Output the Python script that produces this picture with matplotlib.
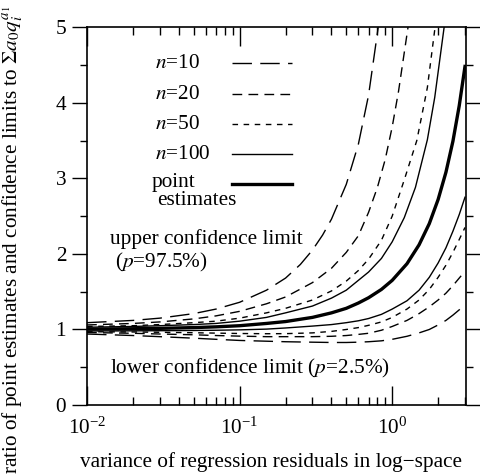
import matplotlib
matplotlib.use('agg')
import matplotlib.pyplot as plt
from matplotlib.ticker import MultipleLocator, LogLocator

plt.rcParams['font.family'] = ['Liberation Serif', 'DejaVu Serif']
plt.rcParams['mathtext.fontset'] = 'stix'

FS = 15.3

# common grid for point estimates and lower limits
var_grid = [0.01, 0.02, 0.03, 0.05, 0.07, 0.1, 0.15, 0.2, 0.3, 0.4, 0.5, 0.6,
            0.7, 0.85, 1.0, 1.25, 1.5, 1.75, 2.0, 2.25, 2.5, 2.75, 3.0]
point_est = [1.005, 1.01, 1.015, 1.025, 1.035, 1.05, 1.08, 1.105, 1.16, 1.22, 1.28, 1.35,
             1.42, 1.53, 1.65, 1.87, 2.12, 2.40, 2.72, 3.08, 3.49, 3.96, 4.48]
lower_n100 = [0.98, 0.982, 0.984, 0.987, 0.99, 0.995, 1.005, 1.02, 1.045, 1.065, 1.09, 1.115,
              1.145, 1.20, 1.27, 1.38, 1.52, 1.69, 1.88, 2.08, 2.30, 2.52, 2.75]
lower_n50 = [0.97, 0.967, 0.963, 0.957, 0.952, 0.947, 0.944, 0.945, 0.955, 0.975, 1.00, 1.025,
             1.055, 1.10, 1.16, 1.27, 1.39, 1.53, 1.69, 1.85, 2.02, 2.19, 2.35]
lower_n20 = [0.96, 0.95, 0.94, 0.93, 0.92, 0.912, 0.905, 0.905, 0.905, 0.91, 0.92, 0.935,
             0.95, 0.99, 1.04, 1.12, 1.21, 1.30, 1.39, 1.48, 1.58, 1.68, 1.77]
lower_n10 = [0.94, 0.92, 0.905, 0.885, 0.87, 0.855, 0.845, 0.838, 0.832, 0.828, 0.828, 0.832,
             0.838, 0.85, 0.87, 0.91, 0.955, 1.00, 1.06, 1.12, 1.19, 1.26, 1.33]

# upper limits leave the plot at the top, so each has its own grid
x_up10 = [0.01, 0.02, 0.03, 0.05, 0.07, 0.1, 0.15, 0.2, 0.25, 0.3, 0.35, 0.4, 0.5, 0.6, 0.7, 0.81]
upper_n10 = [1.09, 1.12, 1.15, 1.21, 1.27, 1.36, 1.52, 1.68, 1.86, 2.05, 2.25, 2.46, 2.92, 3.45, 4.1, 5.0]
x_up20 = [0.01, 0.02, 0.03, 0.05, 0.07, 0.1, 0.15, 0.2, 0.3, 0.4, 0.5, 0.6, 0.7, 0.8, 0.9, 1.0, 1.1, 1.27]
upper_n20 = [1.06, 1.08, 1.10, 1.14, 1.18, 1.24, 1.34, 1.43, 1.62, 1.81, 2.02, 2.24, 2.55, 2.88, 3.25, 3.68, 4.15, 5.0]
x_up50 = [0.01, 0.02, 0.03, 0.05, 0.07, 0.1, 0.15, 0.2, 0.3, 0.4, 0.5, 0.6, 0.7, 0.85, 1.0, 1.2, 1.45, 1.7, 1.91]
upper_n50 = [1.04, 1.05, 1.065, 1.09, 1.11, 1.15, 1.22, 1.28, 1.39, 1.51, 1.64, 1.78, 1.93, 2.18, 2.50, 2.98, 3.5, 4.2, 5.0]
x_up100 = [0.01, 0.02, 0.03, 0.05, 0.07, 0.1, 0.15, 0.2, 0.3, 0.4, 0.5, 0.7, 0.85, 1.0, 1.2, 1.42, 1.7, 1.9, 2.19]
upper_n100 = [1.03, 1.04, 1.05, 1.065, 1.08, 1.11, 1.16, 1.22, 1.31, 1.415, 1.52, 1.76, 1.94, 2.16, 2.48, 2.88, 3.51, 4.07, 5.0]

styles = {
    10: dict(color='black', lw=1.0, dashes=(14, 6)),
    20: dict(color='black', lw=1.0, dashes=(7, 4.5)),
    50: dict(color='black', lw=1.0, dashes=(4, 4)),
    100: dict(color='black', lw=1.0, linestyle='-'),
}
bold = dict(color='black', lw=2.4, linestyle='-')

fig = plt.figure(figsize=(4.81, 4.76), dpi=100)
ax = fig.add_axes([0.181, 0.149, 0.788, 0.794])

ax.plot(x_up10, upper_n10, **styles[10])
ax.plot(var_grid, lower_n10, **styles[10])
ax.plot(x_up20, upper_n20, **styles[20])
ax.plot(var_grid, lower_n20, **styles[20])
ax.plot(x_up50, upper_n50, **styles[50])
ax.plot(var_grid, lower_n50, **styles[50])
ax.plot(x_up100, upper_n100, **styles[100])
ax.plot(var_grid, lower_n100, **styles[100])
ax.plot(var_grid, point_est, **bold)

ax.set_xscale('log')
ax.set_xlim(0.01, 3.05)
ax.set_ylim(0, 5)
ax.yaxis.set_major_locator(MultipleLocator(1))
ax.yaxis.set_minor_locator(MultipleLocator(0.5))
ax.xaxis.set_major_locator(LogLocator(base=10))
ax.xaxis.set_minor_locator(LogLocator(base=10, subs=range(2, 10)))

for s in ax.spines.values():
    s.set_linewidth(1.2)
ax.tick_params(axis='x', which='both', direction='in', top=True, width=1.0,
               labelsize=FS, pad=9)
ax.tick_params(axis='x', which='major', length=14)
ax.tick_params(axis='x', which='minor', length=6)
ax.tick_params(axis='y', which='both', direction='out', right=True, width=1.0,
               labelsize=FS, pad=4)
ax.tick_params(axis='y', which='major', length=11)
ax.tick_params(axis='y', which='minor', length=5)

ax.set_xlabel('variance of regression residuals in log\u2212space', fontsize=FS)
ax.xaxis.set_label_coords(0.485, -0.125)
ax.set_ylabel(r'ratio of point estimates and confidence limits to $\Sigma a_0 q_i^{a_1}$',
              fontsize=FS)
ax.yaxis.set_label_coords(-0.165, 0.437)

# hand-made legend
rows = [('$n$=10', styles[10], 0.905), ('$n$=20', styles[20], 0.823),
        ('$n$=50', styles[50], 0.743), ('$n$=100', styles[100], 0.664)]
for label, st, yy in rows:
    ax.text(0.179, yy, label, transform=ax.transAxes, fontsize=FS, va='center', ha='left')
    ax.plot([0.383, 0.541], [yy, yy], transform=ax.transAxes, **st)
ax.text(0.169, 0.590, 'point', transform=ax.transAxes, fontsize=FS, va='center', ha='left')
ax.text(0.185, 0.540, 'estimates', transform=ax.transAxes, fontsize=FS, va='center', ha='left')
ax.plot([0.383, 0.541], [0.585, 0.585], transform=ax.transAxes, **bold)

ax.text(0.061, 0.440, 'upper confidence limit', transform=ax.transAxes, fontsize=FS,
        va='center', ha='left')
ax.text(0.074, 0.378, '($p$=97.5%)', transform=ax.transAxes, fontsize=FS,
        va='center', ha='left')
ax.text(0.061, 0.098, 'lower confidence limit ($p$=2.5%)', transform=ax.transAxes,
        fontsize=FS, va='center', ha='left')

fig.savefig('out.png', dpi=100)
